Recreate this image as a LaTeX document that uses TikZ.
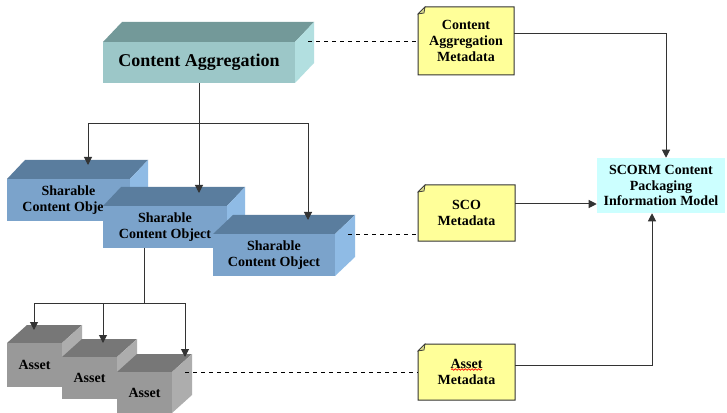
\documentclass[tikz,border=0pt]{standalone}
\usepackage{fontspec}
\setmainfont{Liberation Serif}
\usetikzlibrary{arrows.meta,decorations.pathmorphing}

\definecolor{caFront}{HTML}{9CC7C8}
\definecolor{caTop}{HTML}{739999}
\definecolor{caSide}{HTML}{B2DFE0}
\definecolor{scoFront}{HTML}{7BA3CB}
\definecolor{scoTop}{HTML}{5A7D9E}
\definecolor{scoSide}{HTML}{8FBBE5}
\definecolor{assetFront}{HTML}{999999}
\definecolor{assetTop}{HTML}{777777}
\definecolor{assetSide}{HTML}{ADADAD}
\definecolor{noteFill}{HTML}{FFFF99}
\definecolor{noteFold}{HTML}{D6D68A}
\definecolor{modelFill}{HTML}{CCFFFF}
\definecolor{lineGray}{HTML}{333333}

\tikzset{
  boxtext/.style={inner sep=0pt, align=center, text=black,
    font=\bfseries\fontsize{10.5}{11.5}\selectfont},
  notetext/.style={inner sep=0pt, align=center, text=black,
    font=\bfseries\fontsize{10.5}{12}\selectfont},
  wire/.style={draw=lineGray, line width=0.75pt},
  arrowwire/.style={wire, -{Triangle[length=6pt,width=6pt]}},
  dashwire/.style={draw=black, line width=0.75pt, dash pattern=on 3pt off 3pt},
  spellmark/.style={draw=red, line width=0.5pt,
    decorate, decoration={snake, amplitude=0.6pt, segment length=2.5pt}},
}

% 3D block: name, x1, y1, x2, y2 (front face), depth dx, dy, colour prefix, text
\newcommand\cuboid[9]{%
  \fill[#8Top] (#2,#3) -- ({#2+#6},{#3-#7}) -- ({#4+#6},{#3-#7}) -- (#4,#3) -- cycle;
  \fill[#8Side] (#4,#3) -- ({#4+#6},{#3-#7}) -- ({#4+#6},{#5-#7}) -- (#4,#5) -- cycle;
  \node[boxtext, fill=#8Front, minimum width={(#4-#2)*0.75pt},
        minimum height={(#5-#3)*0.75pt}] (#1) at ({(#2+#4)/2},{(#3+#5)/2}) {#9};
  \coordinate (#1-dash) at ({#4+13},#3);
}

% metadata note with folded corner: name, x1, y1, x2, y2, text
\newcommand\metanote[6]{%
  \filldraw[fill=noteFill, draw=lineGray, line width=0.75pt]
    (#2,{#3+7}) -- ({#2+7},#3) -- (#4,#3) -- (#4,#5) -- (#2,#5) -- cycle;
  \filldraw[fill=noteFold, draw=lineGray, line width=0.5pt]
    (#2,{#3+7}) -- ({#2+7},#3) -- ({#2+6},{#3+6}) -- cycle;
  \node[notetext, minimum width={(#4-#2)*0.75pt},
        minimum height={(#5-#3)*0.75pt}] (#1) at ({(#2+#4)/2},{(#3+#5)/2}) {#6};
}

\begin{document}
\begin{tikzpicture}[x=0.75pt, y=-0.75pt]
  \fill[white] (0,0) rectangle (727,413);
  \useasboundingbox (0,0) rectangle (727,413);

  % content aggregation block
  \cuboid{ca}{103}{42}{295}{83}{19}{20}{ca}{\fontsize{13.5}{16}\selectfont Content Aggregation}

  % sharable content objects
  \cuboid{scoA}{7}{179}{130}{221}{18}{19}{sco}{Sharable\\Content Object}
  \cuboid{scoB}{103}{206}{227}{248}{18}{19}{sco}{Sharable\\Content Object}
  \cuboid{scoC}{213}{234}{335}{276}{20}{19}{sco}{Sharable\\Content Object}

  % assets
  \cuboid{assetA}{7}{343}{62}{387}{20}{18}{asset}{Asset}
  \cuboid{assetB}{62}{357}{117}{399}{20}{18}{asset}{Asset}
  \cuboid{assetC}{117}{372}{172}{413}{20}{18}{asset}{Asset}

  % metadata notes
  \metanote{caMeta}{418}{7}{514}{75}{Content\\Aggregation\\Metadata}
  \metanote{scoMeta}{418}{185}{515}{241}{SCO\\Metadata}
  \metanote{assetMeta}{418}{344}{515}{400}{Asset\\Metadata}
  \coordinate (spellA) at (451,369.5);
  \coordinate (spellB) at (482,369.5);
  \draw[spellmark] (spellA) -- (spellB);

  % information model
  \node[boxtext, fill=modelFill, minimum width={128*0.75pt}, minimum height={55*0.75pt}]
    (model) at (661,185.5) {SCORM Content\\Packaging\\Information Model};

  % tree from the aggregation to the content objects
  \coordinate (split1) at (199,124);
  \coordinate (scoA-in) at (88,165);
  \coordinate (scoB-in) at (199,193);
  \coordinate (scoC-in) at (308,220);
  \draw[wire] (ca.south) -- (split1);
  \draw[arrowwire] (split1) -| (scoA-in);
  \draw[arrowwire] (split1) -- (scoB-in);
  \draw[arrowwire] (split1) -| (scoC-in);

  % tree from a content object to its assets
  \coordinate (split2) at (144,303);
  \coordinate (assetA-in) at (34,330);
  \coordinate (assetB-in) at (103,343);
  \coordinate (assetC-in) at (185,357);
  \draw[wire] (scoB.south -| split2) -- (split2);
  \draw[arrowwire] (split2) -| (assetA-in);
  \draw[arrowwire] (split2) -| (assetB-in);
  \draw[arrowwire] (split2) -| (assetC-in);

  % metadata associations
  \draw[dashwire] (ca-dash) -- (ca-dash -| caMeta.west);
  \draw[dashwire] (scoC-dash) -- (scoC-dash -| scoMeta.west);
  \draw[dashwire] (assetC-dash) -- (assetC-dash -| assetMeta.west);

  % metadata feeding the information model
  \draw[arrowwire] (caMeta.east |- 0,34) -| (model.north -| 666,0);
  \draw[arrowwire] (scoMeta.east |- 0,204) -- (model.west |- 0,204);
  \draw[arrowwire] (assetMeta.east |- 0,365) -| (model.south -| 652,0);
\end{tikzpicture}
\end{document}
